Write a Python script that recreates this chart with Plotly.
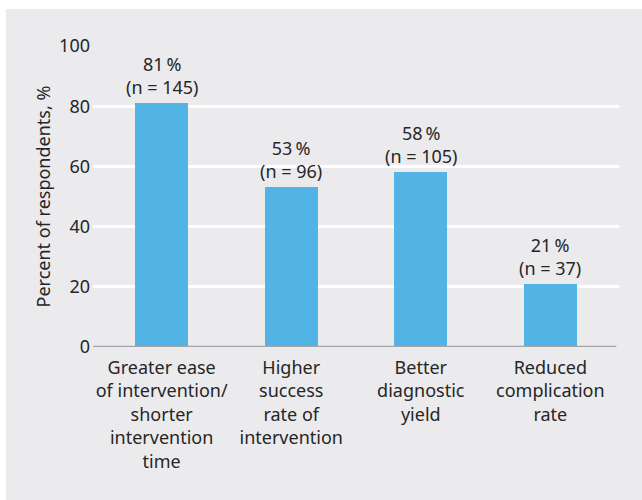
import plotly.graph_objects as go

categories = [
    "Greater ease<br>of intervention/<br>shorter<br>intervention<br>time",
    "Higher<br>success<br>rate of<br>intervention",
    "Better<br>diagnostic<br>yield",
    "Reduced<br>complication<br>rate",
]
percent = [81, 53, 58, 21]
counts = [145, 96, 105, 37]
y_ticks = [0, 20, 40, 60, 80, 100]

FONT = "Noto Sans"
TEXT = "#262626"
BAR = "#52b3e5"
PANEL = "#ebebed"

x_idx = list(range(len(categories)))

fig = go.Figure(
    go.Bar(
        x=x_idx,
        y=percent,
        width=0.41,
        marker=dict(color=BAR, line=dict(width=0)),
        hoverinfo="skip",
    )
)

for i, (p, n) in enumerate(zip(percent, counts)):
    fig.add_annotation(
        x=i, y=p, xref="x", yref="y",
        text=f"{p}\u2009%<br>(n = {n})",
        showarrow=False, yanchor="bottom", yshift=2,
        font=dict(family=FONT, size=18, color=TEXT),
    )

# zero baseline
fig.add_shape(
    type="line", xref="paper", yref="y",
    x0=0, x1=0.995, y0=0, y1=0,
    line=dict(color="#a4a4a6", width=2.5), layer="above",
)

# grey background panel
W, H = 642, 500
ml, mr, mt, mb = 93, 23, 46, 153
pw, ph = W - ml - mr, H - mt - mb
fig.add_shape(
    type="rect", xref="paper", yref="paper",
    x0=(6 - ml) / pw, x1=(W + 2 - ml) / pw,
    y0=-(H + 2 - mt - ph) / ph, y1=(H - mb - 9) / ph,
    fillcolor=PANEL, line=dict(width=0), layer="below",
)

fig.update_layout(
    width=W, height=H,
    margin=dict(l=ml, r=mr, t=mt, b=mb),
    paper_bgcolor="white",
    plot_bgcolor="rgba(0,0,0,0)",
    showlegend=False,
    bargap=0,
    font=dict(family=FONT, size=18, color=TEXT),
    xaxis=dict(
        range=[-0.53, 3.53],
        tickmode="array", tickvals=x_idx, ticktext=categories,
        showgrid=False, zeroline=False, showline=False,
        ticks="", ticklabelstandoff=8,
        tickfont=dict(family=FONT, size=18, color=TEXT),
    ),
    yaxis=dict(
        range=[0, 100],
        tickmode="array", tickvals=y_ticks,
        showgrid=True, gridcolor="white", gridwidth=2.5,
        zeroline=False, showline=False, ticks="",
        ticklabelstandoff=2,
        tickfont=dict(family=FONT, size=18, color=TEXT),
        title=dict(text="Percent of respondents, %", standoff=3,
                   font=dict(family=FONT, size=18, color=TEXT)),
    ),
)

fig.write_html("out.html")
